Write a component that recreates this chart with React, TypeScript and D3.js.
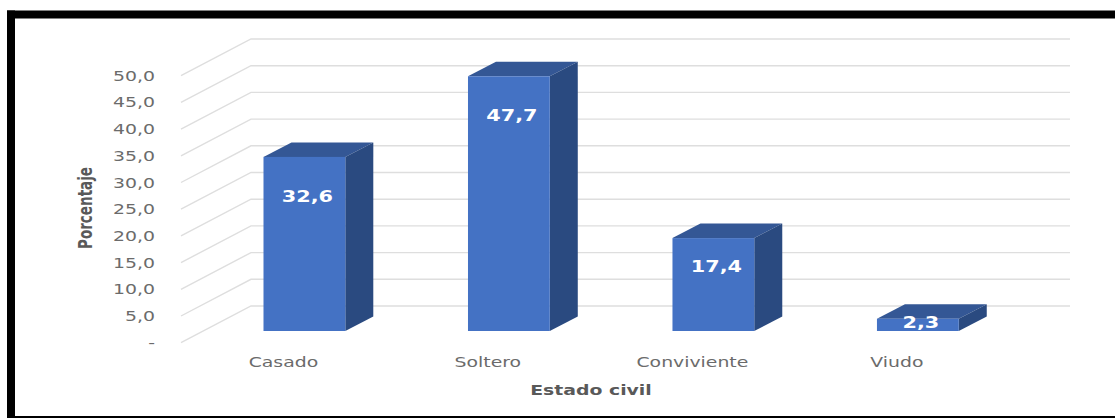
import React from "react";
import * as d3 from "d3";

// Estado civil de los encuestados, en porcentaje
const categories = ["Casado", "Soltero", "Conviviente", "Viudo"];
const percentages = [32.6, 47.7, 17.4, 2.3];
const valueLabels = ["32,6", "47,7", "17,4", "2,3"];
const yTicks = [0, 5, 10, 15, 20, 25, 30, 35, 40, 45, 50];
const yTickLabels = ["-", "5,0", "10,0", "15,0", "20,0", "25,0", "30,0", "35,0", "40,0", "45,0", "50,0"];

const WIDTH = 1115;
const HEIGHT = 418;
const UI_FONT = "'DejaVu Sans', Verdana, sans-serif";
const TEXT_COLOR = "#6b6b6b";
const STRETCH = 1.3; // all labels are drawn wide

// Oblique projection of the floor: wall offset and bar depth
const WALL_DX = 70;
const WALL_DY = -36.7;
const BAR_DX = 28;
const BAR_DY = -14.5;

export default function App() {
  const yFront = d3.scaleLinear().domain([0, 50]).range([342.7, 75.7]);
  const barBase = 331;
  const barHeight = (v: number) => yFront(0) - yFront(v);

  const x = d3
    .scaleBand<string>()
    .domain(categories)
    .range([161.25, 1061])
    .paddingInner(0.6)
    .paddingOuter(0.5);
  const barW = x.bandwidth();

  return (
    <svg
      width={WIDTH}
      height={HEIGHT}
      viewBox={`0 0 ${WIDTH} ${HEIGHT}`}
      style={{ position: "absolute", left: 0, top: 0, background: "#fff" }}
    >
      {/* Marco negro */}
      <rect x={7} y={10.5} width={WIDTH} height={8} fill="#000" />
      <rect x={7} y={10.5} width={8} height={HEIGHT} fill="#000" />
      <rect x={7} y={416} width={WIDTH} height={2} fill="#000" />

      {/* Cuadrícula: floor diagonal plus back wall line */}
      {yTicks.map((t) => {
        const y0 = yFront(t);
        return (
          <polyline
            key={t}
            points={`181,${y0} ${181 + WALL_DX},${y0 + WALL_DY} 1070,${y0 + WALL_DY}`}
            fill="none"
            stroke="#dedede"
            strokeWidth={1.4}
          />
        );
      })}

      {/* Etiquetas del eje Y */}
      {yTicks.map((t, i) => (
        <text
          key={t}
          transform={`translate(155,${yFront(t) + 5}) scale(${STRETCH},1)`}
          textAnchor="end"
          fontFamily={UI_FONT}
          fontSize={14.5}
          fill={TEXT_COLOR}
        >
          {yTickLabels[i]}
        </text>
      ))}

      {/* Barras */}
      {categories.map((c, i) => {
        const x0 = x(c)!;
        const x1 = x0 + barW;
        const yTop = barBase - barHeight(percentages[i]);
        return (
          <g key={c}>
            <path
              d={`M${x0},${yTop} L${x0 + BAR_DX},${yTop + BAR_DY} L${x1 + BAR_DX},${yTop + BAR_DY} L${x1},${yTop} Z`}
              fill="#345795"
            />
            <path
              d={`M${x1},${yTop} L${x1 + BAR_DX},${yTop + BAR_DY} L${x1 + BAR_DX},${barBase + BAR_DY} L${x1},${barBase} Z`}
              fill="#2A4A80"
            />
            <rect x={x0} y={yTop} width={barW} height={barBase - yTop} fill="#4472C4" />
          </g>
        );
      })}

      {/* Valores sobre las barras */}
      {categories.map((c, i) => {
        const centre = x(c)! + barW / 2 + 3;
        const yTop = barBase - barHeight(percentages[i]);
        const h = barBase - yTop;
        const baseline = h > 30 ? yTop + Math.min(h * 0.36, 45) : barBase - 3;
        return (
          <text
            key={c}
            transform={`translate(${centre},${baseline}) scale(${STRETCH},1)`}
            textAnchor="middle"
            fontFamily={UI_FONT}
            fontWeight={700}
            fontSize={16}
            fill="#fff"
          >
            {valueLabels[i]}
          </text>
        );
      })}

      {/* Etiquetas de categoría */}
      {categories.map((c) => (
        <text
          key={c}
          transform={`translate(${x(c)! + barW / 2 - 21},367) scale(${STRETCH},1)`}
          textAnchor="middle"
          fontFamily={UI_FONT}
          fontSize={14.5}
          fill={TEXT_COLOR}
        >
          {c}
        </text>
      ))}

      {/* Títulos de los ejes */}
      <text
        transform={`translate(591,395) scale(${STRETCH},1)`}
        textAnchor="middle"
        fontFamily={UI_FONT}
        fontWeight={700}
        fontSize={14.5}
        fill="#595959"
      >
        Estado civil
      </text>
      <text
        transform="translate(92,208) rotate(-90)"
        textAnchor="middle"
        fontFamily={UI_FONT}
        fontWeight={700}
        fontSize={19}
        fill="#595959"
        textLength={82}
        lengthAdjust="spacingAndGlyphs"
      >
        Porcentaje
      </text>
    </svg>
  );
}
